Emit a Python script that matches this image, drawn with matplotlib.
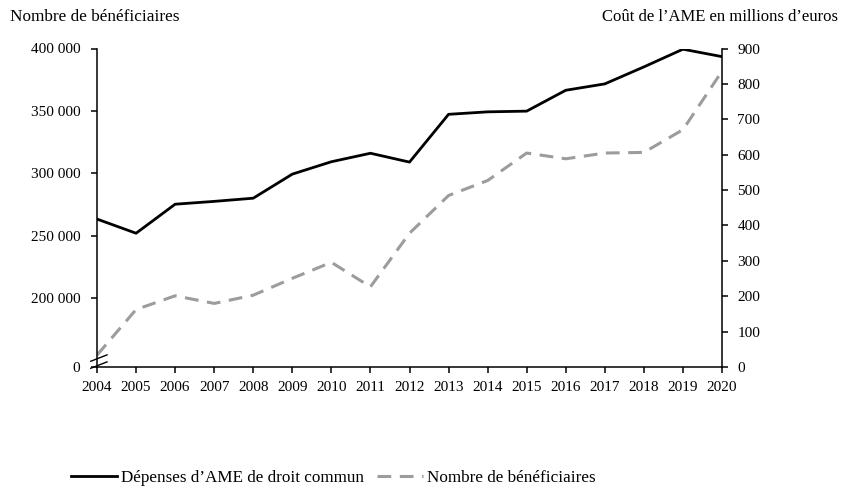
import matplotlib.pyplot as plt

# Données
annees = list(range(2004, 2021))
beneficiaires = [154500, 191000, 202000, 195900, 202500, 216000, 228800, 209200, 252100,
                 282300, 294300, 316300, 311700, 316300, 316800, 335000, 381800]
depenses = [418, 378, 460, 468, 477, 545, 580, 604, 579,
            714, 721, 723, 782, 800, 848, 898, 877]

ticks_gauche = [145000, 200000, 250000, 300000, 350000, 400000]
labels_gauche = ['0', '200 000', '250 000', '300 000', '350 000', '400 000']
ticks_droite = [0, 100, 200, 300, 400, 500, 600, 700, 800, 900]

plt.rcParams['font.family'] = ['Liberation Serif', 'DejaVu Serif']
plt.rcParams['font.size'] = 11

fig = plt.figure(figsize=(8.43, 4.88), dpi=100)
ax = fig.add_axes([97/843, 1 - 367/488, (722 - 97)/843, (367 - 48.5)/488])
ax2 = ax.twinx()

# Nombre de bénéficiaires (axe de gauche)
l2, = ax.plot(annees, beneficiaires, color='#9c9c9c', lw=2.2, linestyle=(0, (4.5, 2.8)),
              label='Nombre de bénéficiaires')
# Dépenses (axe de droite)
l1, = ax2.plot(annees, depenses, color='black', lw=2.0, label='Dépenses d’AME de droit commun')

ax.set_xlim(2004, 2020)
ax.set_ylim(145000, 400000)
ax2.set_ylim(0, 900)
ax.set_xticks(annees)
ax.set_yticks(ticks_gauche)
ax.set_yticklabels(labels_gauche)
ax2.set_yticks(ticks_droite)

for a in (ax, ax2):
    a.spines['top'].set_visible(False)
    for s in ('left', 'right', 'bottom'):
        a.spines[s].set_linewidth(1.1)
ax.spines['right'].set_visible(False)
ax2.spines['left'].set_visible(False)
ax2.spines['bottom'].set_visible(False)

ax.tick_params(axis='y', direction='out', length=4, width=1.1, pad=8)
ax.tick_params(axis='x', direction='out', length=4, width=1.1, pad=6)
ax2.tick_params(axis='y', direction='out', length=4, width=1.1, pad=7)

# marque de rupture de l'axe de gauche
for dy in (0.030, 0.008):
    ax.plot([-0.010, 0.016], [dy - 0.012, dy + 0.008], transform=ax.transAxes,
            color='black', lw=1.0, clip_on=False)

fig.text(10/843, 1 - 17/488, 'Nombre de bénéficiaires', ha='left', va='center', fontsize=12.4)
fig.text(838/843, 1 - 17/488, 'Coût de l’AME en millions d’euros', ha='right', va='center',
         fontsize=12)

fig.legend(handles=[l1, l2], loc='center', bbox_to_anchor=(0.3956, 0.021), ncol=2,
           frameon=False, fontsize=12.3, handlelength=2.7, handletextpad=0.25,
           columnspacing=0.75)

fig.savefig('out.png', dpi=100)
